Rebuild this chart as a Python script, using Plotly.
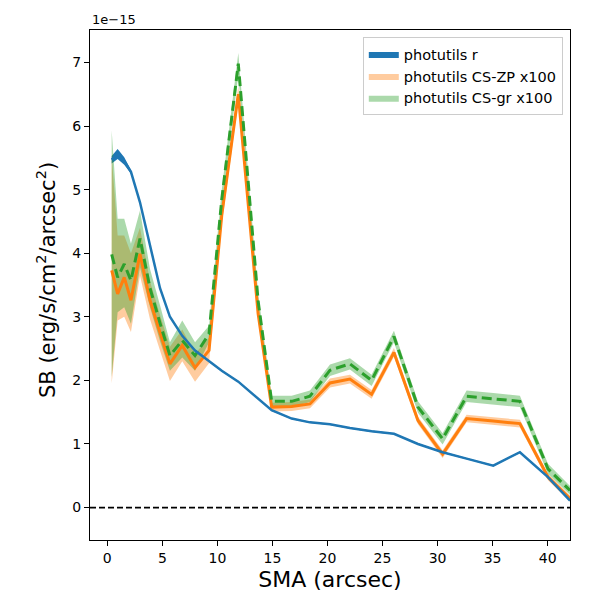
import plotly.graph_objects as go

# SMA grid (arcsec), shared by all three profiles
sma = [0.40, 0.94, 1.54, 2.15, 2.97, 3.88, 4.79, 5.69, 6.81, 7.97, 9.24, 10.4, 11.9, 13.7,
       14.93, 16.75, 18.41, 20.23, 22.04, 24.01, 26.04, 28.22, 30.46, 32.64, 35.06, 37.48,
       40.03, 42.03]

# surface brightness in units of 1e-15 erg/s/cm^2/arcsec^2
sb_r = [5.47, 5.56, 5.45, 5.28, 4.80, 4.10, 3.45, 3.00, 2.70, 2.47, 2.30, 2.15, 1.98, 1.72,
        1.53, 1.40, 1.34, 1.31, 1.25, 1.20, 1.16, 1.00, 0.87, 0.77, 0.66, 0.87, 0.48, 0.11]
sb_r_lo = [5.41, 5.48, 5.39, 5.25, 4.79, 4.09, 3.44, 2.99, 2.69, 2.46, 2.29, 2.14, 1.97, 1.71,
           1.52, 1.39, 1.33, 1.30, 1.24, 1.19, 1.15, 0.99, 0.86, 0.76, 0.65, 0.86, 0.47, 0.10]
sb_r_hi = [5.53, 5.64, 5.51, 5.31, 4.81, 4.11, 3.46, 3.01, 2.71, 2.48, 2.31, 2.16, 1.99, 1.73,
           1.54, 1.41, 1.35, 1.32, 1.26, 1.21, 1.17, 1.01, 0.88, 0.78, 0.67, 0.88, 0.49, 0.12]

sb_zp = [3.73, 3.36, 3.62, 3.26, 3.99, 3.26, 2.75, 2.26, 2.55, 2.20, 2.47, 4.60, 6.50, 3.05,
         1.58, 1.59, 1.63, 1.96, 2.02, 1.78, 2.44, 1.37, 0.84, 1.40, 1.36, 1.32, 0.48, 0.14]
sb_zp_lo = [1.95, 2.94, 3.00, 2.76, 3.65, 2.96, 2.47, 1.99, 2.30, 1.98, 2.27, 4.45, 6.38, 2.95,
            1.51, 1.52, 1.56, 1.89, 1.95, 1.71, 2.37, 1.31, 0.78, 1.34, 1.30, 1.26, 0.43, 0.09]
sb_zp_hi = [5.55, 4.28, 4.28, 4.00, 4.40, 3.56, 3.03, 2.53, 2.80, 2.42, 2.67, 4.75, 6.62, 3.15,
            1.65, 1.66, 1.70, 2.03, 2.09, 1.85, 2.51, 1.43, 0.90, 1.46, 1.42, 1.38, 0.53, 0.19]

sb_gr = [3.98, 3.62, 3.83, 3.57, 4.23, 3.45, 2.90, 2.39, 2.63, 2.39, 2.73, 4.85, 6.98, 3.25,
         1.67, 1.67, 1.75, 2.16, 2.26, 2.00, 2.69, 1.58, 1.08, 1.75, 1.71, 1.67, 0.61, 0.27]
sb_gr_lo = [2.05, 3.07, 3.15, 2.89, 3.78, 3.15, 2.62, 2.15, 2.36, 2.15, 2.60, 4.70, 6.81, 3.13,
            1.58, 1.58, 1.66, 2.07, 2.17, 1.91, 2.60, 1.49, 0.99, 1.66, 1.62, 1.58, 0.53, 0.20]
sb_gr_hi = [5.93, 4.54, 4.54, 4.15, 4.67, 3.75, 3.18, 2.60, 2.94, 2.60, 2.86, 5.00, 7.15, 3.37,
            1.76, 1.76, 1.84, 2.25, 2.35, 2.09, 2.78, 1.67, 1.17, 1.84, 1.80, 1.76, 0.69, 0.34]

series = [
    ("photutils r", sb_r, sb_r_lo, sb_r_hi, "#1f77b4", "rgba(31,119,180,1)", "solid", 2.5),
    ("photutils CS-ZP x100", sb_zp, sb_zp_lo, sb_zp_hi, "#ff7f0e", "rgba(255,127,14,0.4)", "solid", 3),
    ("photutils CS-gr x100", sb_gr, sb_gr_lo, sb_gr_hi, "#2ca02c", "rgba(44,160,44,0.4)", "10px,5px", 3),
]

fig = go.Figure()

# bands first (these carry the legend entries)
for name, y, lo, hi, col, fillcol, dash, lw in series:
    fig.add_trace(go.Scatter(
        x=sma + sma[::-1], y=hi + lo[::-1], fill="toself", fillcolor=fillcol,
        line=dict(width=0, color=fillcol), mode="lines", name=name, hoverinfo="skip",
    ))

# then the profile lines, blue on top
for name, y, lo, hi, col, fillcol, dash, lw in [series[1], series[2], series[0]]:
    fig.add_trace(go.Scatter(
        x=sma, y=y, mode="lines", line=dict(color=col, width=lw, dash=dash),
        showlegend=False,
    ))

fig.add_hline(y=0, line=dict(color="black", width=1.8, dash="6px,3px"))

axis_style = dict(
    showline=True, linecolor="black", linewidth=1, mirror=True,
    ticks="outside", ticklen=5, tickcolor="black", showgrid=False, zeroline=False,
    tickfont=dict(size=14, color="black"),
)

fig.update_xaxes(
    range=[-1.57, 42.03], tickvals=[0, 5, 10, 15, 20, 25, 30, 35, 40],
    title=dict(text="SMA (arcsec)", font=dict(size=22, color="black"), standoff=6),
    **axis_style,
)
fig.update_yaxes(range=[-0.51, 7.51], tickvals=[0, 1, 2, 3, 4, 5, 6, 7], **axis_style)

# y title as a rotated annotation so it sits where matplotlib put it
fig.add_annotation(
    text="SB (erg/s/cm<sup>2</sup>/arcsec<sup>2</sup>)", xref="paper", yref="paper",
    x=0, y=0.5, xanchor="center", yanchor="middle", xshift=-44, yshift=5, textangle=-90,
    showarrow=False, font=dict(size=21, color="black"),
)

fig.add_annotation(
    text="1e\u221215", xref="paper", yref="paper", x=0, y=1, xanchor="left", yanchor="bottom",
    showarrow=False, font=dict(size=13, color="black"), yshift=1,
)

# page body has an 8px offset, margins compensate for it
fig.update_layout(
    width=600, height=600,
    margin=dict(l=82, r=38, t=22, b=68),
    plot_bgcolor="white", paper_bgcolor="white",
    font=dict(family="DejaVu Sans", color="black"),
    legend=dict(
        x=0.985, y=0.986, xanchor="right", yanchor="top",
        bgcolor="rgba(255,255,255,0.8)", bordercolor="#cccccc", borderwidth=1,
        font=dict(size=14.5), tracegroupgap=2,
    ),
)

fig.write_html("out.html")
